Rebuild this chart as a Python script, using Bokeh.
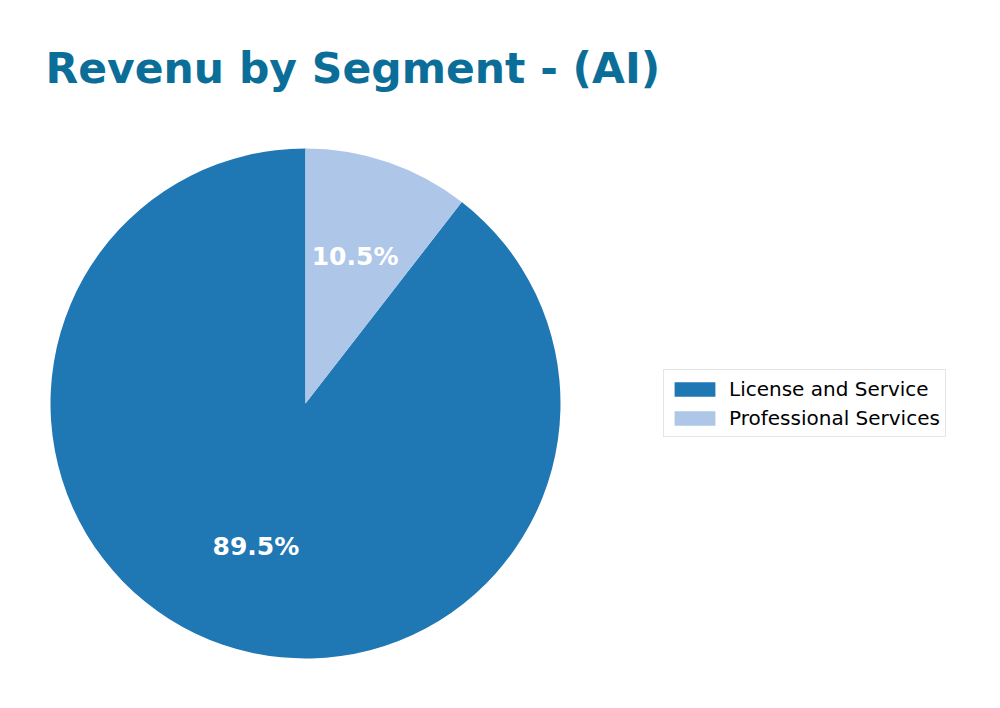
import numpy as np
from bokeh.core.properties import value
from bokeh.embed import file_html
from bokeh.models import ColumnDataSource, Legend, LegendItem
from bokeh.plotting import figure
from bokeh.resources import INLINE

segments = ["License and Service", "Professional Services"]
shares = [89.5, 10.5]
colors = ["#1f77b4", "#aec7e8"]
title_text = "Revenu by Segment - (AI)"

W, H = 984, 692
cx, cy, r = 305, 289, 255

frac = np.array(shares) / sum(shares)
ends = np.pi / 2 + 2 * np.pi * np.cumsum(frac)
starts = ends - 2 * np.pi * frac
mids = (starts + ends) / 2

src = ColumnDataSource(dict(
    seg=segments, start=starts, end=ends, color=colors,
    lx=cx + 0.6 * r * np.cos(mids), ly=cy + 2 + 0.6 * r * np.sin(mids),
    lbl=["%.1f%%" % s for s in shares],
))

p = figure(width=W, height=H, x_range=(0, W), y_range=(0, H),
           output_backend="svg", toolbar_location=None, min_border=0)
p.axis.visible = False
p.grid.visible = False
p.outline_line_color = None

items = []
for i in range(len(segments)):
    g = p.wedge(x=cx, y=cy, radius=r, start_angle=starts[i], end_angle=ends[i],
                fill_color=colors[i], line_color=None)
    items.append(LegendItem(label=segments[i], renderers=[g]))

p.text(x="lx", y="ly", text="lbl", source=src, text_color="white",
       text_font=value("DejaVu Sans"), text_font_style="bold",
       text_font_size="25px", text_align="center", text_baseline="middle")

p.text(x=[45], y=[624], text=[title_text], text_color="#0b6e98",
       text_font=value("DejaVu Sans"), text_font_style="bold",
       text_font_size="42.5px", text_baseline="alphabetic")

leg = Legend(items=items, location=(663, 255),
             label_text_font="DejaVu Sans", label_text_font_size="20px",
             label_text_color="black",
             glyph_width=51, glyph_height=18, label_standoff=9,
             label_height=27, spacing=2, padding=5, margin=0,
             border_line_color="#cccccc", border_line_width=1)
p.add_layout(leg, "center")

open("out.html", "w").write(file_html(p, INLINE))
